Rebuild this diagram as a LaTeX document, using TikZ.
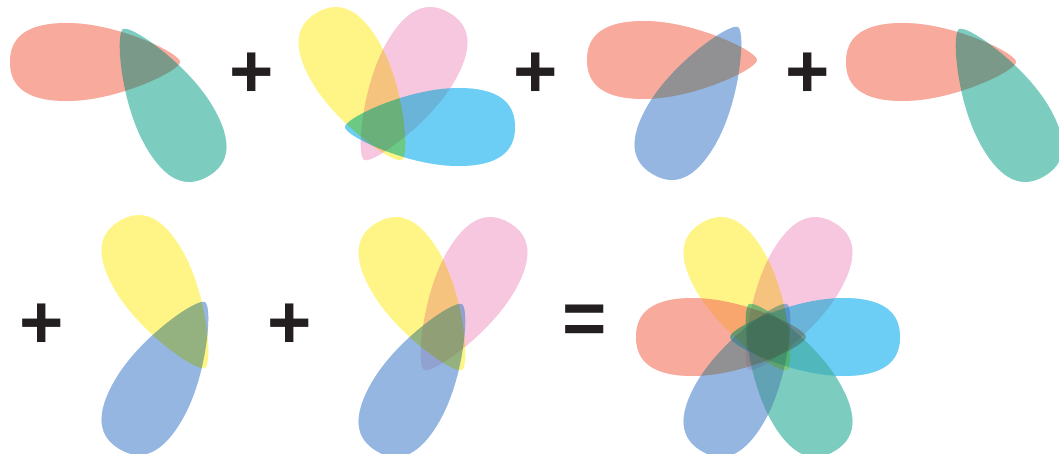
\documentclass[tikz,border=0pt]{standalone}
\usepackage{fontspec}
\setmainfont{Liberation Sans}
\definecolor{petalred}{RGB}{248,170,157}
\definecolor{petalgreen}{RGB}{124,204,192}
\definecolor{petalyellow}{RGB}{255,245,135}
\definecolor{petalpink}{RGB}{246,199,222}
\definecolor{petalcyan}{RGB}{108,206,245}
\definecolor{petalblue}{RGB}{148,182,225}
\definecolor{signblack}{RGB}{35,31,32}
% one lobe: tip at (-38,0), wide end at (132,0), pointing along +x
\newcommand{\petal}[3]{%
  \fill[#1, shift={#2}, rotate=#3]
    (-38,0) .. controls (-38,9) and (25,39) .. (75,39)
    .. controls (115,39) and (132,25) .. (132,0)
    .. controls (132,-25) and (115,-39) .. (75,-39)
    .. controls (25,-39) and (-38,-9) .. cycle;}
% every lobe of the picture
\newcommand{\allpetals}{%
  \petal{petalred}{(142,-62)}{180}
  \petal{petalgreen}{(142,-62)}{300}
  \petal{petalyellow}{(383,-127)}{120}
  \petal{petalpink}{(383,-127)}{60}
  \petal{petalcyan}{(383,-127)}{0}
  \petal{petalred}{(719,-60)}{180}
  \petal{petalblue}{(719,-60)}{240}
  \petal{petalred}{(978,-62)}{180}
  \petal{petalgreen}{(978,-62)}{300}
  \petal{petalyellow}{(186,-335)}{120}
  \petal{petalblue}{(186,-335)}{240}
  \petal{petalyellow}{(443,-337)}{120}
  \petal{petalpink}{(443,-337)}{60}
  \petal{petalblue}{(443,-337)}{240}
  \foreach \ang/\col in {180/petalred, 0/petalcyan, 120/petalyellow,
      60/petalpink, 240/petalblue, 300/petalgreen}
    {\petal{\col}{(768,-337)}{\ang}}}
\begin{document}
\begin{tikzpicture}[x=1pt, y=1pt,
    sign/.style={font=\fontsize{76}{76}\selectfont\bfseries, text=signblack, inner sep=0pt}]
    \useasboundingbox (0,0) rectangle (1059,-453);
    % overlaps: half multiply, half darken
    \begin{scope}[blend mode=multiply]
      \allpetals
    \end{scope}
    \begin{scope}[opacity=0.5]
      \begin{scope}[transparency group]
        \begin{scope}[blend mode=darken]
          \allpetals
        \end{scope}
      \end{scope}
    \end{scope}
    % signs
    \node[sign] (plusA) at (252,-75) {+};
    \node[sign] (plusB) at (536,-75) {+};
    \node[sign] (plusC) at (808,-75) {+};
    \node[sign] (plusD) at (42,-326) {+};
    \node[sign] (plusE) at (290,-326) {+};
    \node[sign] (equals) at (585,-325) {=};
  \end{tikzpicture}
\end{document}
